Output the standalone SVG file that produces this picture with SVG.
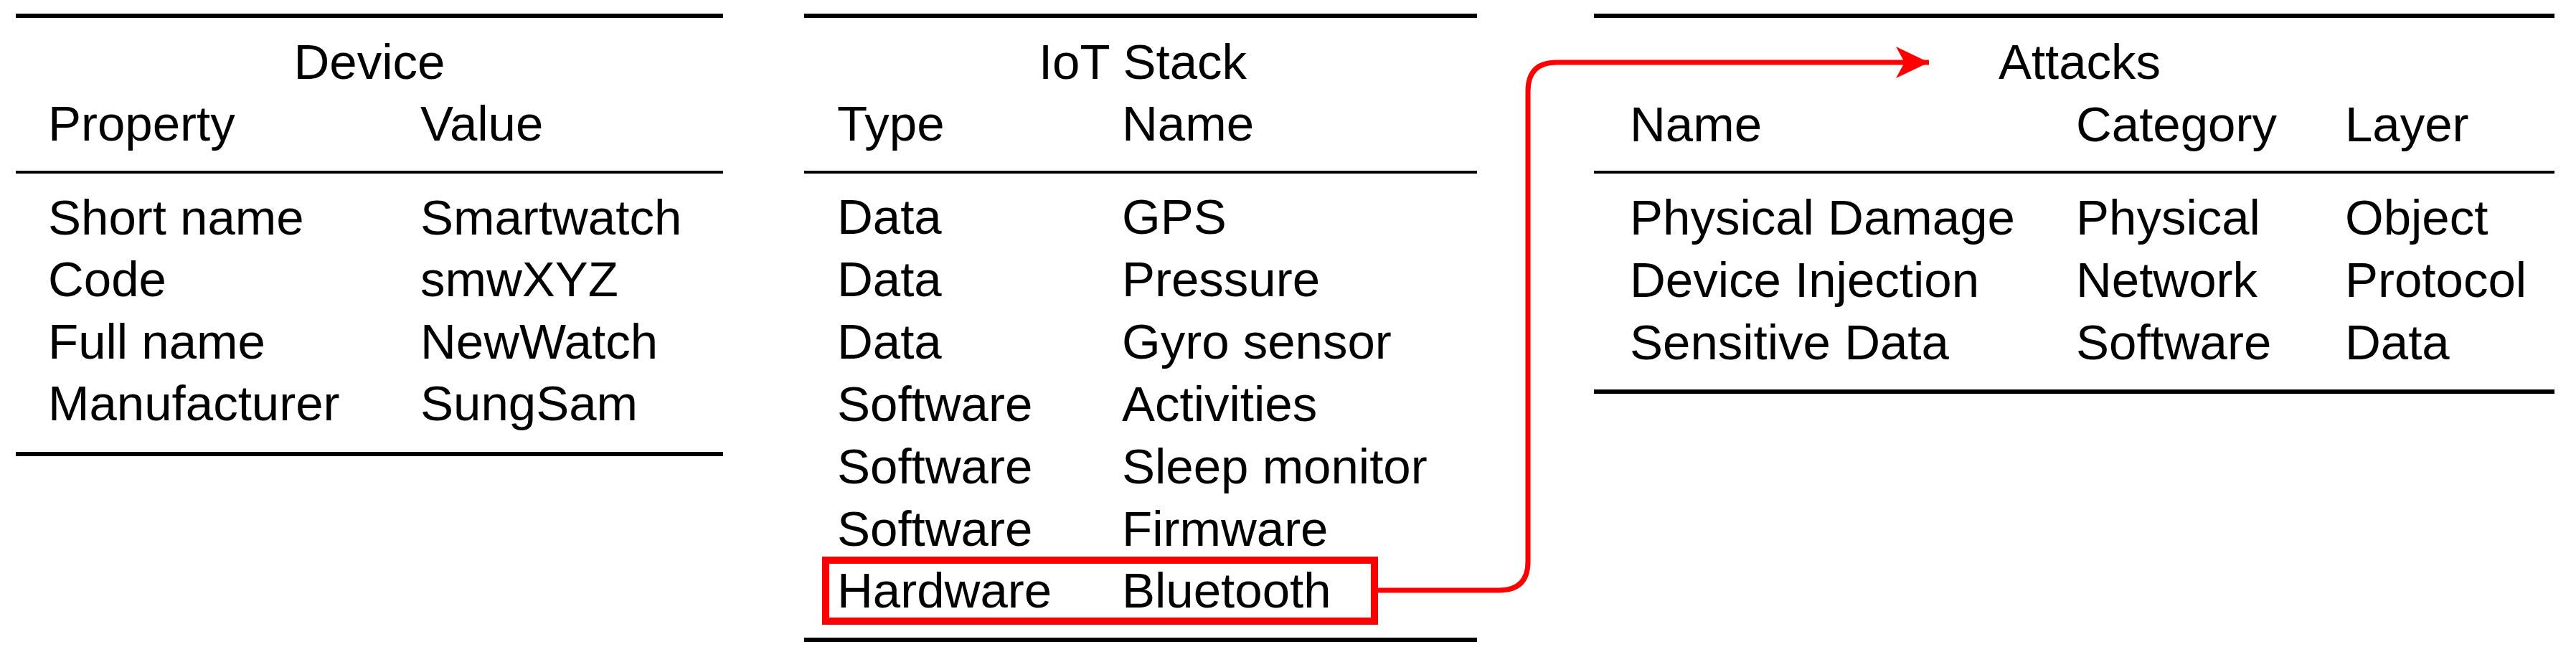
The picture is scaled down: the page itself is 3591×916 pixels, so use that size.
<svg xmlns="http://www.w3.org/2000/svg" width="3591" height="916" viewBox="0 0 3591 916">
<style>
text{font-family:"Liberation Sans",Arial,sans-serif;font-size:69px;fill:#000}
.t{text-anchor:middle}
.h{font-weight:500}
.thick{stroke:#000;stroke-width:6}
.thin{stroke:#000;stroke-width:4}
</style>
<defs>
<marker id="ah" viewBox="0 0 46 44" refX="46" refY="22" markerWidth="46" markerHeight="44" markerUnits="userSpaceOnUse" orient="auto">
<path d="M0,0 L46,22 L0,44 L12,22 Z" fill="#f00"/>
</marker>
</defs>
<rect width="3591" height="916" fill="#fff"/>
<g id="device">
<line class="thick" x1="22" y1="22" x2="1008" y2="22"/>
<line class="thin" x1="22" y1="240" x2="1008" y2="240"/>
<line class="thick" x1="22" y1="633" x2="1008" y2="633"/>
<text class="t h" x="515" y="110">Device</text>
<text class="h" x="67" y="196">Property</text><text class="h" x="586" y="196">Value</text>
<text x="67" y="327">Short name</text><text x="586" y="327">Smartwatch</text>
<text x="67" y="413">Code</text><text x="586" y="413">smwXYZ</text>
<text x="67" y="500">Full name</text><text x="586" y="500">NewWatch</text>
<text x="67" y="586">Manufacturer</text><text x="586" y="586">SungSam</text>
</g>
<g id="iot">
<line class="thick" x1="1121" y1="22" x2="2059" y2="22"/>
<line class="thin" x1="1121" y1="240" x2="2059" y2="240"/>
<line class="thick" x1="1121" y1="892" x2="2059" y2="892"/>
<text class="t h" x="1593" y="110">IoT Stack</text>
<text class="h" x="1167" y="196">Type</text><text class="h" x="1564" y="196">Name</text>
<text x="1167" y="326">Data</text><text x="1564" y="326">GPS</text>
<text x="1167" y="413">Data</text><text x="1564" y="413">Pressure</text>
<text x="1167" y="500">Data</text><text x="1564" y="500">Gyro sensor</text>
<text x="1167" y="587">Software</text><text x="1564" y="587">Activities</text>
<text x="1167" y="674">Software</text><text x="1564" y="674">Sleep monitor</text>
<text x="1167" y="761">Software</text><text x="1564" y="761">Firmware</text>
<text x="1167" y="847">Hardware</text><text x="1564" y="847">Bluetooth</text>
<rect x="1151" y="781" width="765" height="85" fill="none" stroke="#f00" stroke-width="10"/>
</g>
<g id="attacks">
<line class="thick" x1="2222" y1="22" x2="3561" y2="22"/>
<line class="thin" x1="2222" y1="240" x2="3561" y2="240"/>
<line class="thick" x1="2222" y1="546" x2="3561" y2="546"/>
<text class="t h" x="2899" y="110">Attacks</text>
<text class="h" x="2272" y="197">Name</text><text class="h" x="2894" y="197">Category</text><text class="h" x="3269" y="197">Layer</text>
<text x="2272" y="327">Physical Damage</text><text x="2894" y="327">Physical</text><text x="3269" y="327">Object</text>
<text x="2272" y="414">Device Injection</text><text x="2894" y="414">Network</text><text x="3269" y="414">Protocol</text>
<text x="2272" y="501">Sensitive Data</text><text x="2894" y="501">Software</text><text x="3269" y="501">Data</text>
</g>
<g id="connectors">
<path d="M1916,823 H2090 Q2130,823 2130,783 V127 Q2130,87 2170,87 H2689" fill="none" stroke="#f00" stroke-width="7" marker-end="url(#ah)"/>
</g>
</svg>
